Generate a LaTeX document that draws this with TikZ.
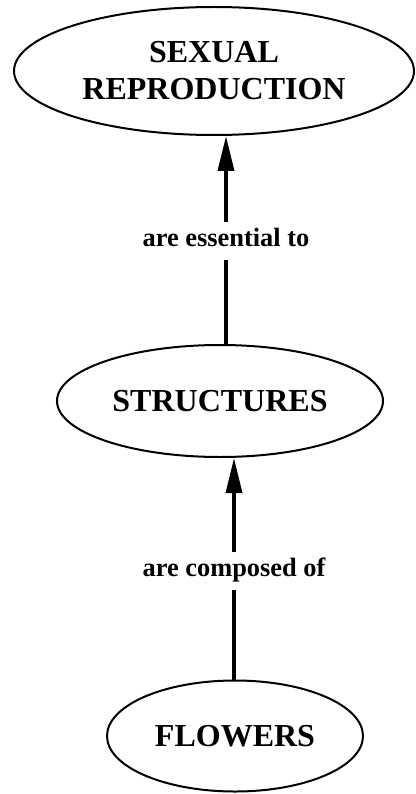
\documentclass[tikz,border=0pt]{standalone}
\usepackage{fontspec}
\setmainfont{Liberation Serif}
\usetikzlibrary{shapes.geometric,arrows.meta}
\begin{document}
\begin{tikzpicture}[x=1pt,y=-1pt,
  concept/.style={ellipse,draw,line width=2pt,inner sep=0pt,align=center,
    font=\fontsize{32}{37}\selectfont\bfseries},
  linklabel/.style={inner xsep=2pt,inner ysep=6.6pt,text height=17.5pt,text depth=6.7pt,
    font=\fontsize{26.4}{30}\selectfont\bfseries,anchor=base},
  link/.style={line width=3.5pt},
  arrowlink/.style={link,-{Triangle[length=35pt,width=16pt]}}]
\useasboundingbox (0,0) rectangle (415,794);
\node[concept,minimum width=400pt,minimum height=128pt] (sexual) at (214,71) {SEXUAL\\REPRODUCTION};
\node[concept,minimum width=326pt,minimum height=112pt] (structures) at (220,401) {STRUCTURES};
\node[concept,minimum width=256pt,minimum height=111pt] (flowers) at (235,736) {FLOWERS};
\node[linklabel] (l1) at (226,246.7) {are essential to};
\node[linklabel] (l2) at (234,576.7) {are composed of};
\draw[link] (structures.north -| l1) -- (l1.south);
\draw[arrowlink] (l1.north) -- (l1.north |- sexual.south);
\draw[link] (flowers.north -| l2) -- (l2.south);
\draw[arrowlink] (l2.north) -- (l2.north |- structures.south);
\end{tikzpicture}
\end{document}
